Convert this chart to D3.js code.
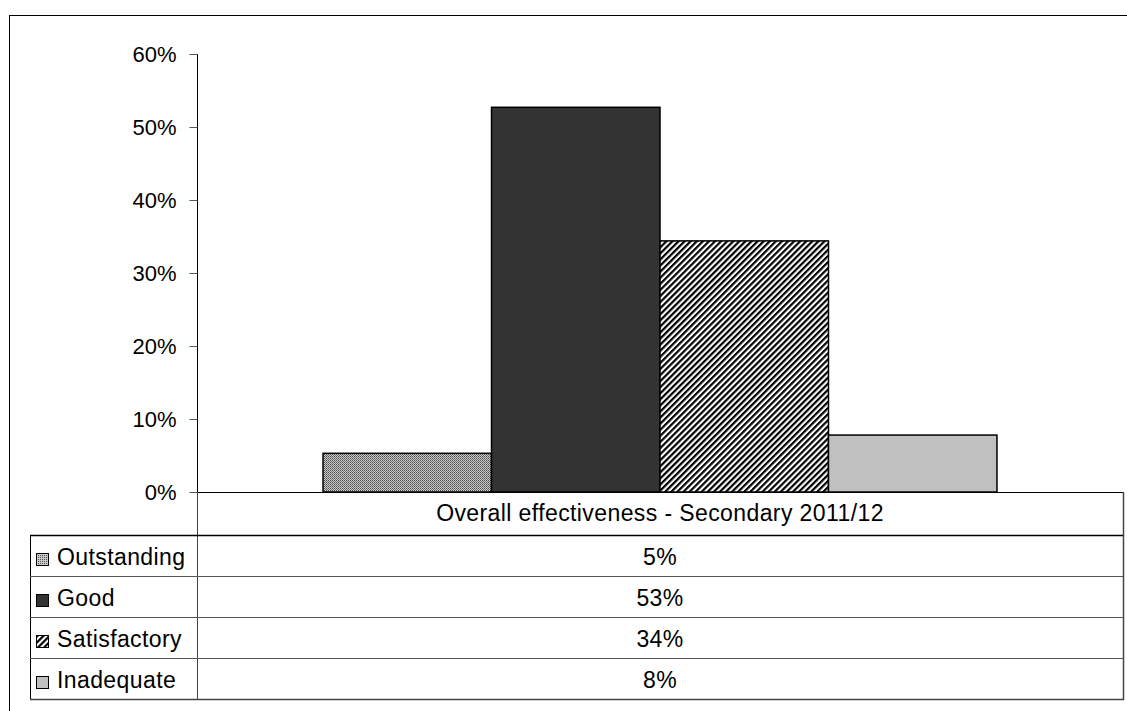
<!DOCTYPE html>
<html>
<head>
<meta charset="utf-8">
<script src="https://cdn.jsdelivr.net/npm/d3@7"></script>
<style>
  html, body { margin: 0; padding: 0; background: #fff; }
  svg { display: block; font-family: "Liberation Sans", Arial, sans-serif; }
  .tbl-text { font-size: 23px; letter-spacing: 0.4px; fill: #000; }
</style>
</head>
<body>
<svg id="chart" width="1127" height="711"></svg>
<script>
// Inspection grades, share of secondary schools
const categories = ["Overall effectiveness - Secondary 2011/12"];
const seriesNames = ["Outstanding", "Good", "Satisfactory", "Inadequate"];
const seriesValues = [0.053, 0.527, 0.344, 0.078];
const yTicks = [0, 0.1, 0.2, 0.3, 0.4, 0.5, 0.6];

(function () {
const svg = d3.select("#chart");
const defs = svg.append("defs");

// Fine dotted fill for Outstanding
const dots = defs.append("pattern").attr("id", "p-out")
  .attr("patternUnits", "userSpaceOnUse").attr("width", 2).attr("height", 2);
dots.append("rect").attr("width", 2).attr("height", 2).attr("fill", "#cccccc");
dots.append("rect").attr("width", 1).attr("height", 1).attr("fill", "#4a4a4a");
dots.append("rect").attr("x", 1).attr("y", 1).attr("width", 1).attr("height", 1).attr("fill", "#707070");

// Diagonal stripes for Satisfactory
const stripes = defs.append("pattern").attr("id", "p-sat")
  .attr("patternUnits", "userSpaceOnUse").attr("width", 4.3).attr("height", 4.3)
  .attr("patternTransform", "rotate(45)");
stripes.append("rect").attr("width", 4.3).attr("height", 4.3).attr("fill", "#fff");
stripes.append("rect").attr("width", 2.2).attr("height", 4.3).attr("fill", "#000");

// Small key patterns for the table legend
const dotsKey = defs.append("pattern").attr("id", "k-out")
  .attr("patternUnits", "userSpaceOnUse").attr("width", 2).attr("height", 2);
dotsKey.append("rect").attr("width", 2).attr("height", 2).attr("fill", "#c8c8c8");
dotsKey.append("rect").attr("width", 1).attr("height", 1).attr("fill", "#555");
const stripesKey = defs.append("pattern").attr("id", "k-sat")
  .attr("patternUnits", "userSpaceOnUse").attr("width", 4.3).attr("height", 4.3)
  .attr("patternTransform", "rotate(45)");
stripesKey.append("rect").attr("width", 4.3).attr("height", 4.3).attr("fill", "#fff");
stripesKey.append("rect").attr("width", 2.2).attr("height", 4.3).attr("fill", "#000");

const fills = ["url(#p-out)", "#333333", "url(#p-sat)", "#c0c0c0"];
const keyFills = ["url(#k-out)", "#333333", "url(#k-sat)", "#c0c0c0"];

// Outer frame
svg.append("rect").attr("x", 9.5).attr("y", 15.5).attr("width", 1200).attr("height", 800)
  .attr("fill", "none").attr("stroke", "#000").attr("stroke-width", 1);

// Plot geometry
const plotLeft = 197, plotRight = 1123, plotTop = 54, base = 492;
const tableLeft = 30, rowTop = 535, rowH = 41;

const y = d3.scaleLinear().domain([0, 0.6]).range([base, plotTop]);
const x0 = d3.scaleBand().domain(categories).range([plotLeft, plotRight]).paddingInner(0).paddingOuter(0);
const x1 = d3.scaleBand().domain(seriesNames).range([0, x0.bandwidth()]).paddingOuter(0.748).paddingInner(0);

// Y axis
const yAxis = d3.axisLeft(y).tickValues(yTicks).tickFormat(d3.format(".0%")).tickSize(8).tickPadding(13);
const gy = svg.append("g").attr("transform", `translate(${plotLeft + 0.5},0)`).call(yAxis);
gy.select(".domain").attr("stroke", "#000").attr("d", `M0,${plotTop}V${base}`);
gy.selectAll(".tick line").attr("stroke", "#555");
gy.selectAll(".tick text").attr("font-size", 22).attr("fill", "#000")
  .attr("font-family", "Liberation Sans, Arial, sans-serif");

// Bars
const g = svg.append("g");
categories.forEach(cat => {
  g.selectAll("rect.bar").data(seriesValues).join("rect").attr("class", "bar")
    .attr("x", (d, i) => x0(cat) + x1(seriesNames[i]))
    .attr("y", d => y(d))
    .attr("width", x1.bandwidth())
    .attr("height", d => base - y(d))
    .attr("fill", (d, i) => fills[i])
    .attr("stroke", "#000").attr("stroke-width", 1.5);
});

// Baseline
svg.append("line").attr("x1", plotLeft).attr("x2", plotRight).attr("y1", base + 0.5).attr("y2", base + 0.5)
  .attr("stroke", "#000").attr("stroke-width", 1.2);

// Data table below the plot
const tbl = svg.append("g");
const tableBottom = rowTop + rowH * seriesNames.length;
tbl.append("line").attr("x1", plotRight + 0.5).attr("x2", plotRight + 0.5).attr("y1", base).attr("y2", tableBottom + 1)
  .attr("stroke", "#444").attr("stroke-width", 1.5);
tbl.append("line").attr("x1", plotLeft + 0.5).attr("x2", plotLeft + 0.5).attr("y1", base).attr("y2", tableBottom + 1)
  .attr("stroke", "#444");
tbl.append("line").attr("x1", tableLeft + 0.5).attr("x2", tableLeft + 0.5).attr("y1", rowTop).attr("y2", tableBottom + 1)
  .attr("stroke", "#000");
categories.forEach(cat => {
  tbl.append("text").attr("class", "tbl-text").attr("x", x0(cat) + x0.bandwidth() / 2).attr("y", base + 29)
    .attr("text-anchor", "middle").text(cat);
});

const fmt = d3.format(".0%");
const rows = tbl.selectAll("g.row").data(seriesNames).join("g").attr("class", "row")
  .attr("transform", (d, i) => `translate(0,${rowTop + i * rowH})`);
rows.append("line").attr("x1", tableLeft).attr("x2", plotRight).attr("y1", 0.5).attr("y2", 0.5)
  .attr("stroke", (d, i) => i === 0 ? "#000" : "#555").attr("stroke-width", (d, i) => i === 0 ? 1.5 : 1);
rows.append("rect").attr("x", 36.5).attr("y", 18.5).attr("width", 12).attr("height", 12)
  .attr("fill", (d, i) => keyFills[i]).attr("stroke", "#000").attr("stroke-width", 1);
rows.append("text").attr("class", "tbl-text").attr("x", 57).attr("y", 29.5).text(d => d);
rows.append("text").attr("class", "tbl-text").attr("x", x0(categories[0]) + x0.bandwidth() / 2).attr("y", 29.5)
  .attr("text-anchor", "middle").text((d, i) => fmt(seriesValues[i]));
tbl.append("line").attr("x1", tableLeft).attr("x2", plotRight + 1).attr("y1", tableBottom + 0.5).attr("y2", tableBottom + 0.5)
  .attr("stroke", "#444").attr("stroke-width", 1.5);
})();
</script>
</body>
</html>
